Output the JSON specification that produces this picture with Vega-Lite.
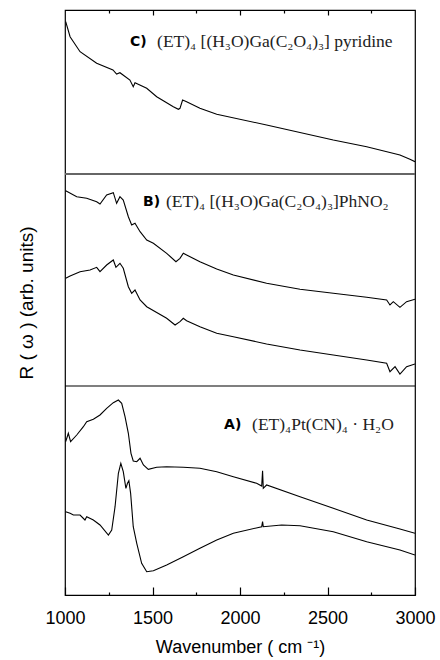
{
  "$schema": "https://vega.github.io/schema/vega-lite/v6.json",
  "width": 350,
  "height": 585,
  "autosize": {"type": "none"},
  "padding": {"left": 65, "top": 10, "right": 25, "bottom": 65},
  "background": "white",
  "config": {"view": {"stroke": "black", "strokeWidth": 1.2}},
  "datasets": {
    "curves": [
      {"s":"C","wn":1004,"r":573.3},{"s":"C","wn":1029,"r":558.3},{"s":"C","wn":1086,"r":543.3},{"s":"C","wn":1181,"r":531.7},{"s":"C","wn":1274,"r":525},{"s":"C","wn":1295,"r":521},{"s":"C","wn":1314,"r":522.3},{"s":"C","wn":1371,"r":515},{"s":"C","wn":1390,"r":508.3},{"s":"C","wn":1400,"r":512.3},{"s":"C","wn":1467,"r":506.7},{"s":"C","wn":1524,"r":498.3},{"s":"C","wn":1619,"r":488.3},{"s":"C","wn":1648,"r":485.7},{"s":"C","wn":1657,"r":486.7},{"s":"C","wn":1672,"r":495},{"s":"C","wn":1695,"r":493.3},{"s":"C","wn":1771,"r":486.7},{"s":"C","wn":1867,"r":480.7},{"s":"C","wn":2152,"r":470},{"s":"C","wn":2533,"r":455},{"s":"C","wn":2724,"r":448.3},{"s":"C","wn":2914,"r":440},{"s":"C","wn":2971,"r":435.7},{"s":"C","wn":3000,"r":433.3},

      {"s":"B1","wn":1004,"r":404.3},{"s":"B1","wn":1067,"r":398.3},{"s":"B1","wn":1124,"r":396.7},{"s":"B1","wn":1181,"r":393.3},{"s":"B1","wn":1200,"r":391},{"s":"B1","wn":1238,"r":400},{"s":"B1","wn":1276,"r":402.3},{"s":"B1","wn":1295,"r":391.7},{"s":"B1","wn":1314,"r":398.3},{"s":"B1","wn":1333,"r":395},{"s":"B1","wn":1362,"r":378.3},{"s":"B1","wn":1381,"r":370},{"s":"B1","wn":1400,"r":371.7},{"s":"B1","wn":1429,"r":363.3},{"s":"B1","wn":1467,"r":355},{"s":"B1","wn":1505,"r":351.7},{"s":"B1","wn":1581,"r":341.7},{"s":"B1","wn":1634,"r":333.3},{"s":"B1","wn":1657,"r":336.7},{"s":"B1","wn":1676,"r":341.7},{"s":"B1","wn":1695,"r":340},{"s":"B1","wn":1771,"r":333.3},{"s":"B1","wn":1867,"r":326},{"s":"B1","wn":1962,"r":320},{"s":"B1","wn":2152,"r":311.7},{"s":"B1","wn":2343,"r":305.7},{"s":"B1","wn":2533,"r":301.7},{"s":"B1","wn":2724,"r":297.7},{"s":"B1","wn":2838,"r":295},{"s":"B1","wn":2857,"r":290},{"s":"B1","wn":2876,"r":293.3},{"s":"B1","wn":2914,"r":287.7},{"s":"B1","wn":2952,"r":293.3},{"s":"B1","wn":3000,"r":295.7},

      {"s":"B2","wn":1004,"r":316.7},{"s":"B2","wn":1029,"r":319},{"s":"B2","wn":1086,"r":323.3},{"s":"B2","wn":1143,"r":325},{"s":"B2","wn":1181,"r":327.7},{"s":"B2","wn":1200,"r":323.3},{"s":"B2","wn":1238,"r":330},{"s":"B2","wn":1276,"r":335},{"s":"B2","wn":1291,"r":327.7},{"s":"B2","wn":1314,"r":331.7},{"s":"B2","wn":1333,"r":326.7},{"s":"B2","wn":1362,"r":308.3},{"s":"B2","wn":1381,"r":301.7},{"s":"B2","wn":1400,"r":305},{"s":"B2","wn":1429,"r":295},{"s":"B2","wn":1467,"r":288.3},{"s":"B2","wn":1581,"r":276.7},{"s":"B2","wn":1629,"r":270},{"s":"B2","wn":1657,"r":273.3},{"s":"B2","wn":1676,"r":276.7},{"s":"B2","wn":1695,"r":274.3},{"s":"B2","wn":1771,"r":268.3},{"s":"B2","wn":1867,"r":261.7},{"s":"B2","wn":1962,"r":258.3},{"s":"B2","wn":2152,"r":251},{"s":"B2","wn":2343,"r":245},{"s":"B2","wn":2533,"r":240},{"s":"B2","wn":2724,"r":235},{"s":"B2","wn":2838,"r":231.7},{"s":"B2","wn":2857,"r":223.3},{"s":"B2","wn":2886,"r":228.3},{"s":"B2","wn":2914,"r":221},{"s":"B2","wn":2952,"r":228.3},{"s":"B2","wn":3000,"r":231},

      {"s":"A1","wn":1004,"r":153.3},{"s":"A1","wn":1019,"r":161.7},{"s":"A1","wn":1032,"r":153.3},{"s":"A1","wn":1067,"r":160},{"s":"A1","wn":1105,"r":168.3},{"s":"A1","wn":1124,"r":173.3},{"s":"A1","wn":1162,"r":175.7},{"s":"A1","wn":1200,"r":180},{"s":"A1","wn":1238,"r":186.7},{"s":"A1","wn":1276,"r":192.3},{"s":"A1","wn":1305,"r":195},{"s":"A1","wn":1324,"r":191.7},{"s":"A1","wn":1343,"r":178.3},{"s":"A1","wn":1362,"r":161.7},{"s":"A1","wn":1377,"r":141.7},{"s":"A1","wn":1390,"r":134},{"s":"A1","wn":1410,"r":133.3},{"s":"A1","wn":1429,"r":136.7},{"s":"A1","wn":1448,"r":130},{"s":"A1","wn":1476,"r":125.7},{"s":"A1","wn":1524,"r":127.7},{"s":"A1","wn":1581,"r":128.3},{"s":"A1","wn":1676,"r":127.7},{"s":"A1","wn":1771,"r":126.7},{"s":"A1","wn":1867,"r":123.3},{"s":"A1","wn":1962,"r":118.3},{"s":"A1","wn":2095,"r":111.7},{"s":"A1","wn":2124,"r":109},{"s":"A1","wn":2129,"r":124.3},{"s":"A1","wn":2133,"r":106.7},{"s":"A1","wn":2152,"r":110},{"s":"A1","wn":2343,"r":98.3},{"s":"A1","wn":2533,"r":86.7},{"s":"A1","wn":2724,"r":75},{"s":"A1","wn":2914,"r":66},{"s":"A1","wn":3000,"r":61.7},

      {"s":"A2","wn":1004,"r":83.3},{"s":"A2","wn":1029,"r":81.7},{"s":"A2","wn":1048,"r":80},{"s":"A2","wn":1086,"r":80},{"s":"A2","wn":1114,"r":75},{"s":"A2","wn":1124,"r":78.3},{"s":"A2","wn":1162,"r":75},{"s":"A2","wn":1200,"r":70},{"s":"A2","wn":1248,"r":60},{"s":"A2","wn":1267,"r":65},{"s":"A2","wn":1286,"r":88.3},{"s":"A2","wn":1305,"r":121.7},{"s":"A2","wn":1319,"r":131.7},{"s":"A2","wn":1333,"r":123.3},{"s":"A2","wn":1348,"r":106.7},{"s":"A2","wn":1357,"r":111.7},{"s":"A2","wn":1365,"r":114.3},{"s":"A2","wn":1375,"r":101.7},{"s":"A2","wn":1390,"r":68.3},{"s":"A2","wn":1410,"r":51.7},{"s":"A2","wn":1438,"r":31.7},{"s":"A2","wn":1467,"r":23.3},{"s":"A2","wn":1505,"r":24.3},{"s":"A2","wn":1581,"r":30},{"s":"A2","wn":1676,"r":38.3},{"s":"A2","wn":1771,"r":46.7},{"s":"A2","wn":1867,"r":55},{"s":"A2","wn":1962,"r":61.7},{"s":"A2","wn":2124,"r":68.3},{"s":"A2","wn":2129,"r":73.3},{"s":"A2","wn":2133,"r":68.3},{"s":"A2","wn":2238,"r":70},{"s":"A2","wn":2343,"r":69.3},{"s":"A2","wn":2533,"r":63.3},{"s":"A2","wn":2724,"r":53.3},{"s":"A2","wn":2914,"r":45},{"s":"A2","wn":3000,"r":40}
    ],
    "tags": [
      {"tag":"C)","wn":1371,"r":553},
      {"tag":"B)","wn":1446,"r":393},
      {"tag":"A)","wn":1909,"r":170}
    ],
    "formulas": [
      {"f":"(ET)₄ [(H₃O)Ga(C₂O₄)₃] pyridine","wn":1526,"r":553},
      {"f":"(ET)₄ [(H₃O)Ga(C₂O₄)₃]PhNO₂","wn":1577,"r":393},
      {"f":"(ET)₄Pt(CN)₄ · H₂O","wn":2069,"r":170}
    ]
  },
  "resolve": {"axis": {"x": "independent"}},
  "layer": [
    {
      "data": {"name": "curves"},
      "mark": {"type": "line", "color": "black", "strokeWidth": 1.1, "clip": true},
      "encoding": {
        "x": {"field": "wn", "type": "quantitative",
          "scale": {"domain": [1000, 3000], "nice": false, "zero": false},
          "axis": {"orient": "bottom", "values": [1000,1500,2000,2500,3000],
            "format": "d", "offset": -8, "tickSize": 8, "tickWidth": 1.2,
            "grid": false, "domain": false, "tickColor": "black",
            "labelFont": "Liberation Sans", "labelFontSize": 18, "labelColor": "black", "labelPadding": 14,
            "labelFlush": false, "labelOverlap": false,
            "title": "Wavenumber ( cm ⁻¹)", "titleFont": "Liberation Sans", "titleFontSize": 18,
            "titleFontWeight": "normal", "titleColor": "black", "titlePadding": 11}},
        "y": {"field": "r", "type": "quantitative",
          "scale": {"domain": [0, 585], "nice": false, "zero": false},
          "axis": {"domain": false, "ticks": false, "labels": false, "grid": false,
            "title": "R ( ω )   (arb. units)", "titleFont": "Liberation Sans", "titleFontSize": 19,
            "titleFontWeight": "normal", "titleColor": "black", "titlePadding": 29}},
        "detail": {"field": "s"}
      }
    },
    {
      "data": {"values": [{"wn": 1000}]},
      "mark": {"type": "rule", "opacity": 0},
      "encoding": {
        "x": {"field": "wn", "type": "quantitative",
          "axis": {"orient": "bottom", "values": [1250,1750,2250,2750], "offset": -3, "tickSize": 3, "tickWidth": 1.2,
            "labels": false, "grid": false, "domain": false, "title": null, "tickColor": "black"}}
      }
    },
    {
      "data": {"values": [{"wn": 1000}]},
      "mark": {"type": "rule", "opacity": 0},
      "encoding": {
        "x": {"field": "wn", "type": "quantitative",
          "axis": {"orient": "top", "values": [1500,2000,2500], "offset": -5, "tickSize": 5, "tickWidth": 1.2,
            "labels": false, "grid": false, "domain": false, "title": null, "tickColor": "black"}}
      }
    },
    {
      "data": {"values": [{"wn": 1000}]},
      "mark": {"type": "rule", "opacity": 0},
      "encoding": {
        "x": {"field": "wn", "type": "quantitative",
          "axis": {"orient": "top", "values": [1250,1750,2250,2750], "offset": -3, "tickSize": 3, "tickWidth": 1.2,
            "labels": false, "grid": false, "domain": false, "title": null, "tickColor": "black"}}
      }
    },
    {
      "data": {"values": [{"r": 421}]},
      "mark": {"type": "rule", "color": "#666666", "strokeWidth": 2},
      "encoding": {"y": {"field": "r", "type": "quantitative"}}
    },
    {
      "data": {"values": [{"r": 209}]},
      "mark": {"type": "rule", "color": "black", "strokeWidth": 1.2},
      "encoding": {"y": {"field": "r", "type": "quantitative"}}
    },
    {
      "data": {"name": "tags"},
      "mark": {"type": "text", "align": "left", "baseline": "middle", "font": "DejaVu Sans", "fontSize": 14, "fontWeight": "bold", "color": "black"},
      "encoding": {
        "x": {"field": "wn", "type": "quantitative", "axis": null},
        "y": {"field": "r", "type": "quantitative"},
        "text": {"field": "tag"}
      }
    },
    {
      "data": {"name": "formulas"},
      "mark": {"type": "text", "align": "left", "baseline": "middle", "font": "Liberation Serif", "fontSize": 17.5, "color": "#222222"},
      "encoding": {
        "x": {"field": "wn", "type": "quantitative", "axis": null},
        "y": {"field": "r", "type": "quantitative"},
        "text": {"field": "f"}
      }
    }
  ]
}
